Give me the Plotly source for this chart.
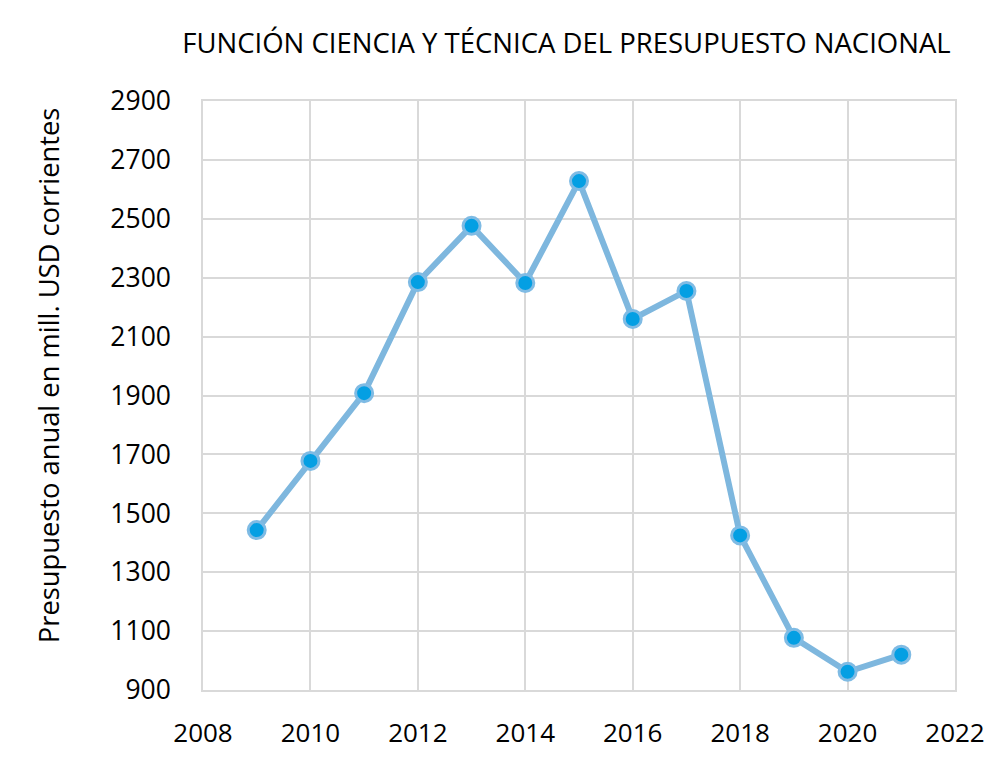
import plotly.graph_objects as go

years = [2009, 2010, 2011, 2012, 2013, 2014, 2015, 2016, 2017, 2018, 2019, 2020, 2021]
budget = [1443, 1678, 1908, 2285, 2476, 2282, 2628, 2160, 2255, 1425, 1077, 962, 1020]

title_text = "FUNCIÓN CIENCIA Y TÉCNICA DEL PRESUPUESTO NACIONAL"
y_title = "Presupuesto anual en mill. USD corrientes"
x_ticks = [2008, 2010, 2012, 2014, 2016, 2018, 2020, 2022]
y_ticks = [900, 1100, 1300, 1500, 1700, 1900, 2100, 2300, 2500, 2700, 2900]

fig = go.Figure()
fig.add_trace(go.Scatter(
    x=years, y=budget, mode="lines+markers",
    line=dict(color="#7EB7DE", width=6),
    marker=dict(size=17, color="#049FE3", line=dict(color="#7FBBE4", width=3)),
    showlegend=False,
))

font_family = "Open Sans, Liberation Sans, sans-serif"
fig.update_layout(
    width=1000, height=769,
    margin=dict(l=195, r=53, t=93, b=87),
    paper_bgcolor="white", plot_bgcolor="white",
    font=dict(family=font_family, color="#000000"),
    title=dict(text=title_text, x=0.5585, xanchor="center", xref="container",
               y=0.9545, yanchor="middle", yref="container",
               font=dict(size=27.5, family=font_family, color="#000000")),
    xaxis=dict(range=[2008, 2022], tickvals=x_ticks, ticktext=[str(v) for v in x_ticks],
               showgrid=True, gridcolor="#D9D9D9", gridwidth=1.5,
               showline=True, linecolor="#D9D9D9", linewidth=1.5, mirror=True,
               zeroline=False, ticks="", tickfont=dict(size=26), ticklabelstandoff=19),
    yaxis=dict(range=[900, 2900], tickvals=y_ticks,
               showgrid=True, gridcolor="#D9D9D9", gridwidth=1.5,
               showline=True, linecolor="#D9D9D9", linewidth=1.5, mirror=True,
               zeroline=False, ticks="", tickfont=dict(size=26.5), ticklabelstandoff=25),
    annotations=[dict(text=y_title, xref="paper", yref="paper", x=-0.206, y=0.533,
                      xanchor="center", yanchor="middle", textangle=-90, showarrow=False,
                      font=dict(size=27.3, family=font_family, color="#000000"))],
)

fig.write_html("out.html")
